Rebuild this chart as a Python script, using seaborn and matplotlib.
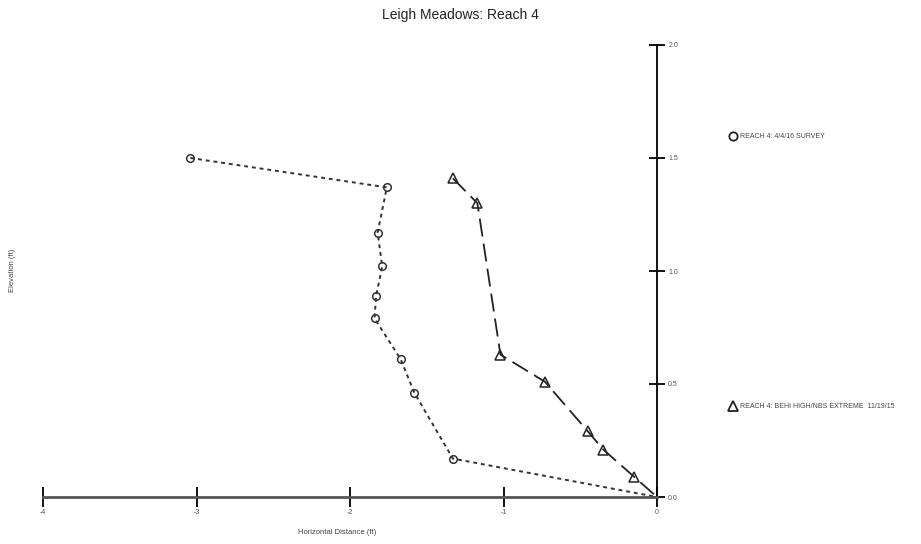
import matplotlib
matplotlib.use("Agg")
import matplotlib.pyplot as plt
import seaborn as sns
from matplotlib.lines import Line2D

# survey 4/4/16 (circles)
survey_x = [-3.04, -1.76, -1.82, -1.79, -1.83, -1.84, -1.67, -1.58, -1.33, 0.0]
survey_y = [1.50, 1.37, 1.17, 1.02, 0.89, 0.79, 0.61, 0.46, 0.17, 0.0]

# BEHI high / NBS extreme 11/19/15 (triangles)
behi_x = [-1.33, -1.17, -1.02, -0.73, -0.45, -0.35, -0.15, 0.0]
behi_y = [1.41, 1.30, 0.63, 0.51, 0.29, 0.21, 0.09, 0.0]

x_ticks = [-4, -3, -2, -1, 0]
y_ticks = [0.0, 0.5, 1.0, 1.5, 2.0]

survey_label = "REACH 4: 4/4/16 SURVEY"
behi_label = "REACH 4: BEHI HIGH/NBS EXTREME  11/19/15"

sns.set_style("white")
plt.rcParams["font.family"] = ["Liberation Sans", "DejaVu Sans"]

fig = plt.figure(figsize=(9.21, 5.44), dpi=100)
ax = fig.add_axes([43 / 921, 47 / 544, 614 / 921, 452 / 544])

sns.lineplot(x=survey_x, y=survey_y, sort=False, estimator=None, ax=ax,
             color="#333333", linewidth=1.4, linestyle=(0, (2, 2)),
             marker="o", markersize=5.5, markerfacecolor="none",
             markeredgecolor="#333333", markeredgewidth=1.1,
             markevery=list(range(len(survey_x) - 1)), clip_on=False)
sns.lineplot(x=behi_x, y=behi_y, sort=False, estimator=None, ax=ax,
             color="#222222", linewidth=1.3, linestyle=(0, (10, 4)),
             marker="^", markersize=6.5, markerfacecolor="none",
             markeredgecolor="#222222", markeredgewidth=1.1,
             markevery=list(range(len(behi_x) - 1)), clip_on=False)

ax.set_xlim(-4, 0)
ax.set_ylim(0, 2)
ax.set_xticks(x_ticks)
ax.set_xticklabels([str(t) for t in x_ticks])
ax.set_yticks(y_ticks)
ax.set_yticklabels([f"{t:.1f}" for t in y_ticks])
ax.yaxis.tick_right()

for s in ["top", "left"]:
    ax.spines[s].set_visible(False)
ax.spines["right"].set_color("black")
ax.spines["right"].set_linewidth(1.3)
ax.spines["bottom"].set_color("#555555")
ax.spines["bottom"].set_linewidth(2.0)
ax.tick_params(axis="x", bottom=True, direction="inout", length=14, width=1.3,
               color="black", labelsize=5, labelcolor="#555555", pad=2)
ax.tick_params(axis="y", right=True, direction="inout", length=12, width=1.3,
               color="black", labelsize=5, labelcolor="#555555", pad=2)
ax.set_xlabel("")
ax.set_ylabel("")

fig.text(0.5, 0.973, "Leigh Meadows: Reach 4", ha="center", va="center",
         fontsize=10, color="#222222")
fig.text(337 / 921, 1 - 532 / 544, "Horizontal Distance (ft)", ha="center",
         va="center", fontsize=5.5, color="#444444")
fig.text(12 / 921, 1 - 270 / 544, "Elevation (ft)", ha="center", va="center",
         rotation=90, fontsize=5.5, color="#444444")

h1 = Line2D([], [], linestyle="none", marker="o", markersize=6,
            markerfacecolor="none", markeredgecolor="#222222", markeredgewidth=1.3)
h2 = Line2D([], [], linestyle="none", marker="^", markersize=7,
            markerfacecolor="none", markeredgecolor="#222222", markeredgewidth=1.3)
leg1 = fig.legend([h1], [survey_label], loc="center left",
                  bbox_to_anchor=(727 / 921, 1 - 137 / 544), frameon=False,
                  fontsize=5, handlelength=0.8, handletextpad=0.6,
                  borderpad=0, labelcolor="#444444")
leg2 = fig.legend([h2], [behi_label], loc="center left",
                  bbox_to_anchor=(727 / 921, 1 - 407 / 544), frameon=False,
                  fontsize=5, handlelength=0.8, handletextpad=0.6,
                  borderpad=0, labelcolor="#444444")

fig.savefig("out.png", dpi=100)
